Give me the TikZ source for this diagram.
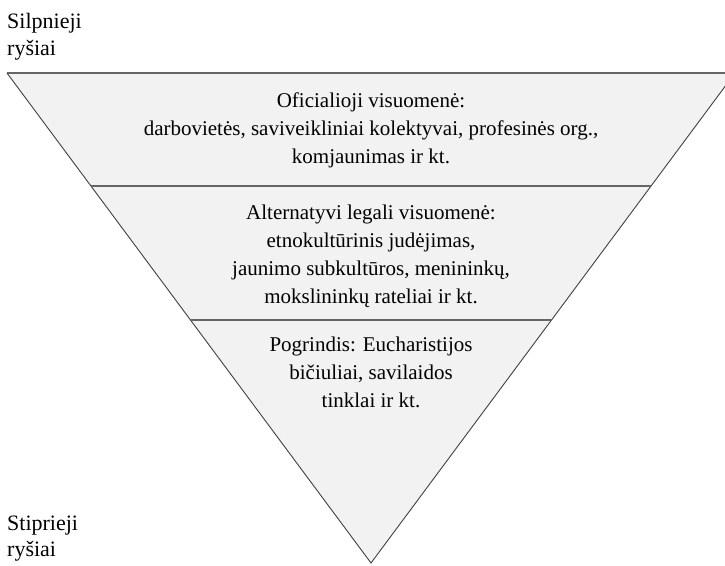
\documentclass[tikz,border=0pt]{standalone}
\usepackage{fontspec}
\setmainfont{Liberation Serif}
\usetikzlibrary{calc}
\begin{document}
\begin{tikzpicture}[x=1pt,y=-1pt,
  lbl/.style={align=center,font=\fontsize{21}{28}\selectfont,inner sep=0pt,anchor=base},
  side/.style={align=left,font=\fontsize{22}{26}\selectfont,inner sep=0pt,anchor=base west},
  edge/.style={draw=black!75,line width=0.9pt},
  sep/.style={draw=black!60,line width=1.1pt}]
\useasboundingbox (0,0) rectangle (725,565);
\begin{scope}
\clip (0,0) rectangle (725,565);
\coordinate (tl) at (7,73);
\coordinate (tr) at (735,73);
\coordinate (ap) at (371,563);
\fill[fill=gray!10] (tl) -- (tr) -- (ap) -- cycle;
\draw[sep] (tl) -- (tr);
\draw[edge] (tr) -- (ap) -- (tl);
\coordinate (a1) at ($(tl)!0.2306!(ap)$);
\coordinate (b1) at ($(tr)!0.2306!(ap)$);
\coordinate (a2) at ($(tl)!0.5041!(ap)$);
\coordinate (b2) at ($(tr)!0.5041!(ap)$);
\draw[sep] (a1) -- (b1);
\draw[sep] (a2) -- (b2);
\end{scope}
\node[lbl] (t1) at (371,163) {Oficialioji visuomenė:\\darbovietės, saviveikliniai kolektyvai, profesinės org.,\\komjaunimas ir kt.};
\node[lbl] (t2) at (371,303) {Alternatyvi legali visuomenė:\\etnokultūrinis judėjimas,\\jaunimo subkultūros, menininkų,\\mokslininkų rateliai ir kt.};
\node[lbl] (t3) at (371,407) {Pogrindis: Eucharistijos\\bičiuliai, savilaidos\\tinklai ir kt.};
\node[side] (s1a) at (7,28) {Silpnieji};
\node[side] (s1b) at (7,55) {ryšiai};
\node[side] (s2a) at (7,530) {Stiprieji};
\node[side] (s2b) at (7,556) {ryšiai};
\end{tikzpicture}
\end{document}
